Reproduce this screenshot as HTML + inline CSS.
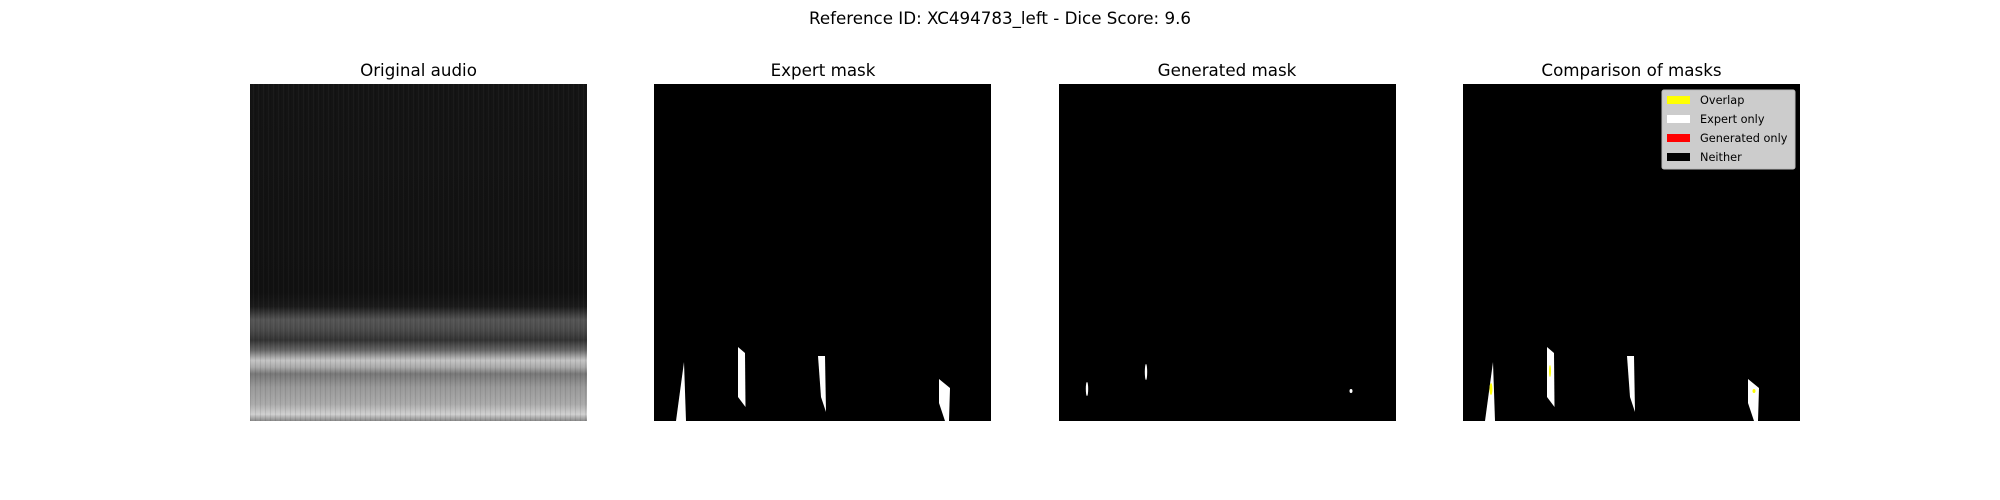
<!DOCTYPE html>
<html><head><meta charset="utf-8"><style>
html,body{margin:0;padding:0;background:#fff}
svg{display:block;font-family:"DejaVu Sans","Liberation Sans",sans-serif}
</style></head><body>
<svg id="fig" width="2000" height="500" viewBox="0 0 2000 500">
<defs>
<linearGradient id="spec" x1="0" y1="0" x2="0" y2="1">
<stop offset="0" stop-color="#141414"/>
<stop offset="0.62" stop-color="#111"/>
<stop offset="0.66" stop-color="#1a1a1a"/>
<stop offset="0.70" stop-color="#555"/>
<stop offset="0.73" stop-color="#4a4a4a"/>
<stop offset="0.76" stop-color="#333"/>
<stop offset="0.79" stop-color="#666"/>
<stop offset="0.82" stop-color="#c4c4c4"/>
<stop offset="0.84" stop-color="#aaa"/>
<stop offset="0.86" stop-color="#777"/>
<stop offset="0.90" stop-color="#999"/>
<stop offset="0.95" stop-color="#aaa"/>
<stop offset="0.98" stop-color="#d0d0d0"/>
<stop offset="1" stop-color="#888"/>
</linearGradient>
<pattern id="stripes" width="5" height="10" patternUnits="userSpaceOnUse">
<rect x="0" y="0" width="1" height="10" fill="#000" opacity="0.08"/>
<rect x="3" y="0" width="1" height="10" fill="#fff" opacity="0.03"/>
</pattern>
</defs>
<text x="1000" y="24" text-anchor="middle" font-size="16.7" fill="#000">Reference ID: XC494783_left - Dice Score: 9.6</text>

<g>
<text x="418.5" y="76" text-anchor="middle" font-size="16.7">Original audio</text>
<rect x="250" y="84" width="337" height="337" fill="url(#spec)"/>
<rect x="250" y="84" width="337" height="337" fill="url(#stripes)"/>
</g>

<g>
<text x="823" y="76" text-anchor="middle" font-size="16.7">Expert mask</text>
<rect x="654" y="84" width="337" height="337" fill="#000"/>
<g id="expertShapes" transform="translate(654,84)"></g>
</g>

<g>
<text x="1227" y="76" text-anchor="middle" font-size="16.7">Generated mask</text>
<rect x="1059" y="84" width="337" height="337" fill="#000"/>
<g id="genShapes" transform="translate(1059,84)"></g>
</g>

<g>
<text x="1631.5" y="76" text-anchor="middle" font-size="16.7">Comparison of masks</text>
<rect x="1463" y="84" width="337" height="337" fill="#000"/>
<g id="cmpShapes" transform="translate(1463,84)"></g>
<g>
<rect x="1662" y="90" width="133" height="79" rx="2" fill="#cccccc" stroke="#bbb"/>
<rect x="1667" y="96" width="23" height="8" fill="#ffff00"/>
<text x="1700" y="104" font-size="11.3">Overlap</text>
<rect x="1667" y="115" width="23" height="8" fill="#ffffff"/>
<text x="1700" y="123" font-size="11.3">Expert only</text>
<rect x="1667" y="134" width="23" height="8" fill="#ff0000"/>
<text x="1700" y="142" font-size="11.3">Generated only</text>
<rect x="1667" y="153" width="23" height="8" fill="#000000"/>
<text x="1700" y="161" font-size="11.3">Neither</text>
</g>
</g>
</svg>
<script>
// expert mask polygons (panel-relative units of a 337px image)
const expertPolys = [
  [[22,337],[30,278],[32,337]],
  [[84,263],[91,269],[91.5,323],[84,313]],
  [[164,272],[171,272],[172,328],[167,313]],
  [[285,295],[296,304],[295,337],[291,337],[285,319]]
];
// generated mask blobs: cx, cy, rx, ry
const genBlobs = [[28,305,1.2,7],[87,288,1.2,8],[292,307,1.5,2]];
// overlap blobs: cx, cy, rx, ry
const overlapBlobs = [[28,305,1.5,6],[87,287,1,6],[291,307,1.5,2]];
const NS='http://www.w3.org/2000/svg';
function drawPolys(g){
  expertPolys.forEach(p=>{
    const el=document.createElementNS(NS,'polygon');
    el.setAttribute('points',p.map(q=>q.join(',')).join(' '));
    el.setAttribute('fill','#fff');
    
    
    g.appendChild(el);
  });
}
function drawBlobs(g,arr,color){
  arr.forEach(b=>{
    const el=document.createElementNS(NS,'ellipse');
    el.setAttribute('cx',b[0]);el.setAttribute('cy',b[1]);
    el.setAttribute('rx',b[2]);el.setAttribute('ry',b[3]);
    el.setAttribute('fill',color);
    
    
    g.appendChild(el);
  });
}
drawPolys(document.getElementById('expertShapes'));
drawBlobs(document.getElementById('genShapes'),genBlobs,'#fff');
drawPolys(document.getElementById('cmpShapes'));
drawBlobs(document.getElementById('cmpShapes'),overlapBlobs,'#ffff00');
</script>
</body></html>
